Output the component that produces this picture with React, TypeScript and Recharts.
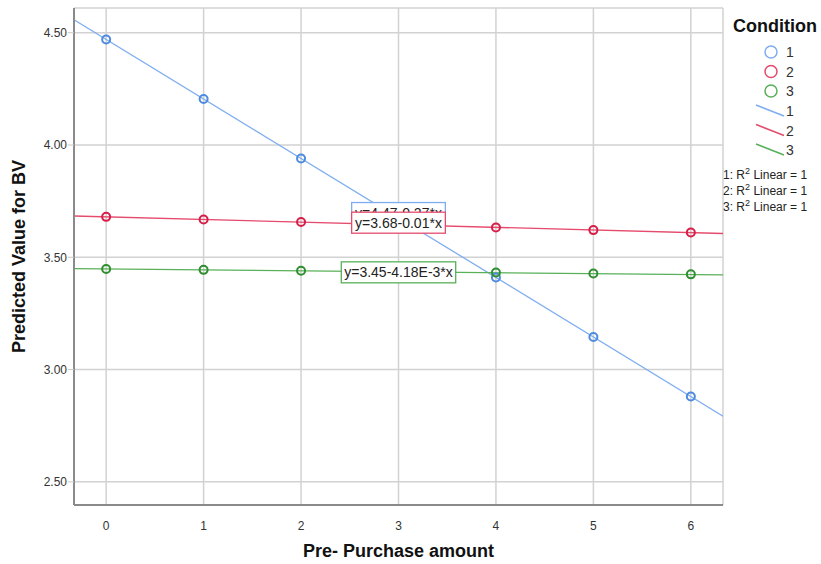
import React from 'react';
import { ComposedChart, Line, Scatter, XAxis, YAxis, CartesianGrid } from 'recharts';

const conditions = ['1', '2', '3'];
const pointColors = ['#4d8ae0', '#d81e48', '#2f8f2f'];
const lineColors = ['#7eaef0', '#e54b6d', '#58b058'];
const xCategories = [0, 1, 2, 4, 5, 6];
const values1 = [4.47, 4.205, 3.94, 3.41, 3.145, 2.88];
const values2 = [3.68, 3.668, 3.657, 3.633, 3.621, 3.61];
const values3 = [3.448, 3.444, 3.44, 3.432, 3.428, 3.424];
const intercepts = [4.47, 3.68, 3.448];
const slopes = [-0.265, -0.0117, -0.00418];
const equationTexts = ['y=4.47-0.27*x', 'y=3.68-0.01*x', 'y=3.45-4.18E-3*x'];
const equationX = 3;
const equationY = [3.697, 3.654, 3.433];
const xTicks = [0, 1, 2, 3, 4, 5, 6];
const yTicks = [2.5, 3.0, 3.5, 4.0, 4.5];
const xDomain = [-0.33, 6.33];
const yDomain = [2.397, 4.61];

const seriesValues = [values1, values2, values3];
const pointData = seriesValues.map((vals) => xCategories.map((x, i) => ({ x, y: vals[i] })));
const fitData = intercepts.map((a, k) => xDomain.map((x) => ({ x, y: a + slopes[k] * x })));
const labelData = equationTexts.map((t, k) => [{ x: equationX, y: equationY[k], text: t, k }]);

const FONT = 'Liberation Sans, Arial, sans-serif';

const Circle = (props: any) => {
  const { cx, cy, fill } = props;
  if (cx == null || cy == null) return null;
  return <circle cx={cx} cy={cy} r={4} fill="none" stroke={fill} strokeWidth={2} />;
};

const EqLabel = (props: any) => {
  const { cx, cy, payload } = props;
  if (cx == null || cy == null) return null;
  const k = payload.k;
  const text = payload.text;
  const w = text.length * 6.9 + 4;
  const h = 21;
  return (
    <g>
      <rect x={cx - w / 2} y={cy - h / 2} width={w} height={h} fill="#fff" stroke={lineColors[k]} strokeWidth={1.3} />
      <text x={cx} y={cy + 5} textAnchor="middle" fontFamily={FONT} fontSize={14} fill="#222">{text}</text>
    </g>
  );
};

const LegendBox = () => (
  <svg width={100} height={215} style={{ position: 'absolute', left: 728, top: 6, overflow: 'visible' }}>
    <text x={5} y={26} fontFamily={FONT} fontWeight="bold" fontSize={18} fill="#111">Condition</text>
    {conditions.map((c, i) => (
      <g key={'c' + c}>
        <circle cx={43} cy={46 + i * 19.5} r={6} fill="none" stroke={lineColors[i]} strokeWidth={1.5} />
        <text x={58} y={51 + i * 19.5} fontFamily={FONT} fontSize={14} fill="#333">{c}</text>
      </g>
    ))}
    {conditions.map((c, i) => (
      <g key={'l' + c}>
        <line x1={28} y1={99 + i * 19.5} x2={56} y2={110 + i * 19.5} stroke={lineColors[i]} strokeWidth={1.5} />
        <text x={58} y={110 + i * 19.5} fontFamily={FONT} fontSize={14} fill="#333">{c}</text>
      </g>
    ))}
    {conditions.map((c, i) => (
      <text key={'r' + c} x={-5} y={173 + i * 16} fontFamily={FONT} fontSize={12} fill="#222">
        {c}: R<tspan dy={-5} fontSize={9}>2</tspan><tspan dy={5}> Linear = 1</tspan>
      </text>
    ))}
  </svg>
);

export default function App() {
  return (
    <div style={{ position: 'absolute', left: 0, top: 0, width: 821, height: 564, background: '#fff' }}>
      <ComposedChart width={821} height={564} margin={{ top: 8, right: 98, bottom: 0, left: 0 }}>
        <CartesianGrid stroke="#d2d2d2" strokeWidth={1.5} />
        <XAxis
          type="number"
          dataKey="x"
          domain={xDomain}
          ticks={xTicks}
          allowDataOverflow
          tickLine={false}
          axisLine={{ stroke: '#8a8a8a', strokeWidth: 2 }}
          tickMargin={10}
          tick={{ fontFamily: FONT, fontSize: 12, fill: '#333' }}
          height={59}
          label={{ value: 'Pre- Purchase amount', position: 'insideBottom', offset: 7, style: { fontFamily: FONT, fontSize: 18, fontWeight: 'bold', fill: '#111' } }}
        />
        <YAxis
          type="number"
          dataKey="y"
          domain={yDomain}
          ticks={yTicks}
          allowDataOverflow
          width={74}
          tickSize={6}
          tickLine={{ stroke: '#c8c8c8' }}
          axisLine={{ stroke: '#8a8a8a', strokeWidth: 2 }}
          tickMargin={1}
          tickFormatter={(v: number) => v.toFixed(2)}
          tick={{ fontFamily: FONT, fontSize: 12, fill: '#333' }}
          label={{ value: 'Predicted Value for BV', angle: -90, position: 'insideLeft', offset: 19, style: { textAnchor: 'middle', fontFamily: FONT, fontSize: 18, fontWeight: 'bold', fill: '#111' } }}
        />
        {fitData.map((d, k) => (
          <Line key={'fit' + k} data={d} dataKey="y" type="linear" stroke={lineColors[k]} strokeWidth={1.3} dot={false} activeDot={false} isAnimationActive={false} legendType="none" />
        ))}
        {pointData.map((d, k) => (
          <Scatter key={'pts' + k} data={d} fill={pointColors[k]} shape={<Circle />} isAnimationActive={false} legendType="none" />
        ))}
        {labelData.map((d, k) => (
          <Scatter key={'lab' + k} data={d} fill={lineColors[k]} shape={<EqLabel />} isAnimationActive={false} legendType="none" />
        ))}
      </ComposedChart>
      <LegendBox />
    </div>
  );
}
